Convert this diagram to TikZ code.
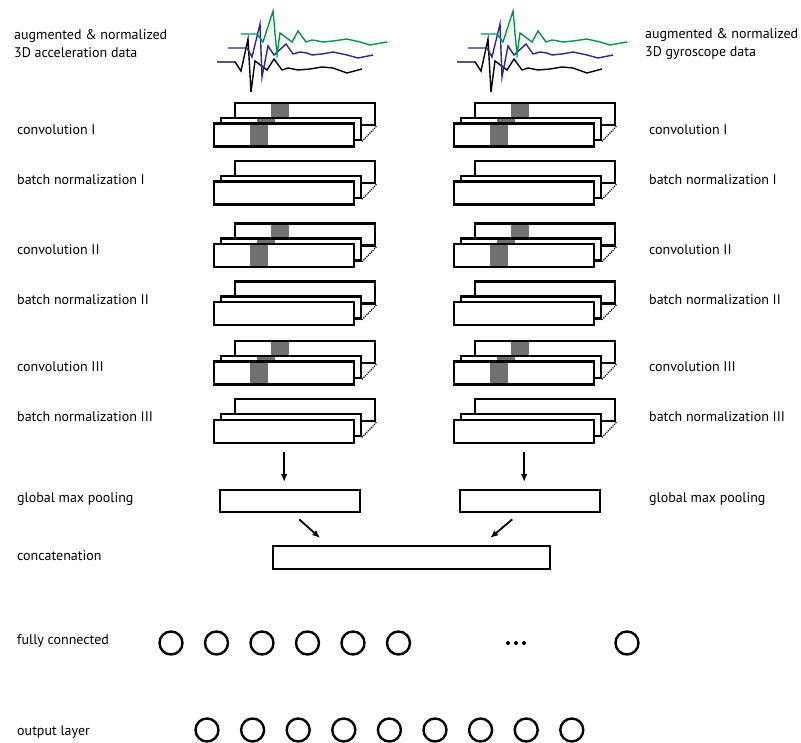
\documentclass[tikz,border=0pt]{standalone}
\usepackage{fontspec}
\setmainfont{PT Sans}
\usetikzlibrary{arrows.meta}
\definecolor{segverde}{RGB}{0,150,70}
\definecolor{segblu}{RGB}{45,40,140}
\definecolor{kerngrau}{RGB}{112,112,112}
\tikzset{
  lay/.style={draw, line width=2.4pt, fill=white, minimum width=140pt, minimum height=22pt, inner sep=0pt, anchor=north west},
  kern/.style={path picture={\fill[kerngrau] ([xshift=36pt]path picture bounding box.north west) rectangle ([xshift=54pt]path picture bounding box.south west);}},
  pfeil/.style={line width=1.8pt, -{Latex[length=8pt,width=6.5pt]}},
  neur/.style={draw, circle, line width=2.4pt, minimum size=23pt, inner sep=0pt},
  lab/.style={anchor=west, font=\fontsize{14}{18}\selectfont, inner sep=0pt},
}
% tre strati sovrapposti: nome, x, y (bordo alto dietro), stile
\newcommand{\strato}[4]{%
  \node[lay,#4] (#1c) at (#2+21,#3) {};
  \node[lay,#4] (#1b) at (#2+6.5,#3+15) {};
  \node[lay,#4,minimum height=23pt] (#1a) at (#2,#3+20.5) {};
  \draw[densely dotted, line width=1.2pt] (#1b.south east) -- (#1c.south east);
}
\begin{document}
\begin{tikzpicture}[x=1pt, y=-1pt]
\useasboundingbox (0,0) rectangle (801,743);
% segnali
\foreach \d in {0,240}{
\begin{scope}[xshift=\d pt, line width=1.4pt]
\draw plot coordinates {(217,62) (235,62) (241,71) (248,39) (251,92) (255,61) (267,70) (274,59) (282,70) (288,68) (298,70) (310,69) (322,67) (333,68) (347,73) (362,69)};
\draw[segblu] plot coordinates {(228,48) (247,48) (252,57) (260,24) (262,77) (268,46) (274,55) (286,44) (293,54) (300,52) (307,53) (312,55) (322,54) (333,52) (347,55) (358,58) (373,55)};
\draw[segverde] plot coordinates {(241,34) (257,34) (263,42) (273,11) (277,55) (280,33) (292,42) (298,31) (306,42) (312,40) (318,41) (323,42) (333,41) (347,39) (360,42) (370,45) (387,42)};
\end{scope}
}
\node[lab, align=left] at (14,44) {augmented \& normalized\\3D acceleration data};
\node[lab, align=left] at (645,44) {augmented \& normalized\\3D gyroscope data};
% strati
\foreach \d/\s/\lx in {0/acc/17, 240/gyr/649}{
  \strato{\s cv1}{213+\d}{102}{kern}
  \strato{\s bn1}{213+\d}{160}{}
  \strato{\s cv2}{213+\d}{222.5}{kern}
  \strato{\s bn2}{213+\d}{280.5}{}
  \strato{\s cv3}{213+\d}{340}{kern}
  \strato{\s bn3}{213+\d}{398}{}
  \node[lab] at (\lx,130) {convolution I};
  \node[lab] at (\lx,180) {batch normalization I};
  \node[lab] at (\lx,250) {convolution II};
  \node[lab] at (\lx,300) {batch normalization II};
  \node[lab] at (\lx,367) {convolution III};
  \node[lab] at (\lx,417) {batch normalization III};
  % pooling
  \node[lay] (\s pool) at (219+\d,489) {};
  \node[lab] at (\lx,499) {global max pooling};
  \draw[pfeil, shorten <=8pt, shorten >=7pt] (\s bn3a.south) -- (\s bn3a.south |- \s pool.north);
}
% concatenazione
\node[lay, minimum width=277pt, minimum height=23pt] (concat) at (272,545) {};
\node[lab] at (17,556) {concatenation};
\draw[pfeil] ([xshift=9pt,yshift=-6pt]accpool.south) -- ([xshift=-91.5pt,yshift=7pt]concat.north);
\draw[pfeil] ([xshift=-18pt,yshift=-6pt]gyrpool.south) -- ([xshift=78.5pt,yshift=7pt]concat.north);
% neuroni
\node[lab] at (17,641) {fully connected};
\foreach \i in {0,...,5}
  \node[neur] (fc\i) at (171+45.5*\i,643) {};
\node[neur] (fc6) at (627,643) {};
\foreach \x in {508,516,524}
  \fill (\x,643) circle (2);
\node[lab] at (17,732) {output layer};
\foreach \i in {0,...,8}
  \node[neur] (out\i) at (207+45.6*\i,730) {};
\end{tikzpicture}
\end{document}
